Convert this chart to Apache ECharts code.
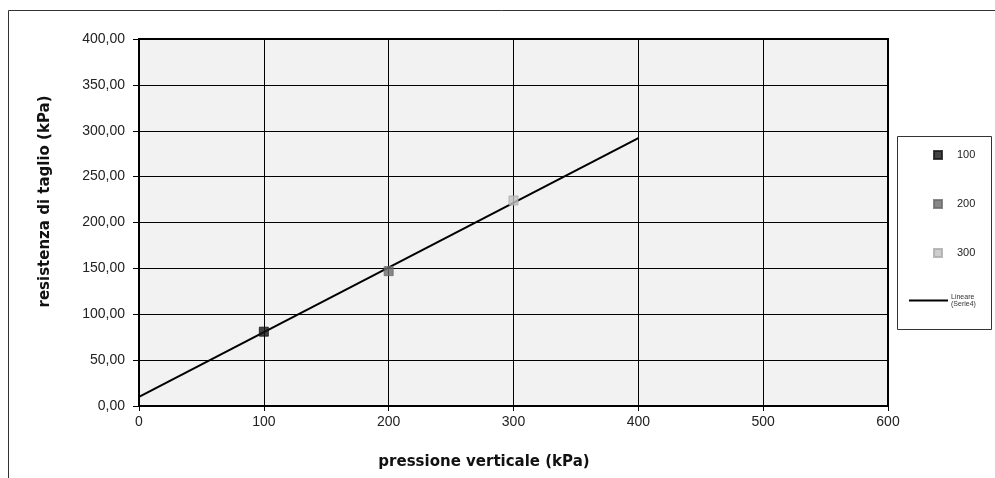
<!DOCTYPE html>
<html>
<head>
<meta charset="utf-8">
<script src="https://cdn.jsdelivr.net/npm/echarts@6/dist/echarts.min.js"></script>
<style>
  html, body { margin: 0; padding: 0; background: #ffffff; }
  #chart { width: 995px; height: 478px; }
</style>
</head>
<body>
<div id="chart"></div>
<script>
// Shear test: vertical pressure vs shear strength, with linear fit
const pressioni = [100, 200, 300];          // kPa, one point per test
const resistenze = [81, 147, 224];          // kPa
const nomiSerie = ['100', '200', '300'];
const coloriSerie = ['#141414', '#6a6a6a', '#c2c2c2'];

// Linear trend line (Serie4), read at its two ends
const lineareX = [0, 400];
const lineareY = [10, 292];
const nomeLineare = 'Lineare (Serie4)';

const xTicks = { min: 0, max: 600, step: 100 };
const yTicks = { min: 0, max: 400, step: 50 };

const chart = echarts.init(document.getElementById('chart'));

const scatterSeries = nomiSerie.map((nome, i) => ({
  name: nome,
  type: 'scatter',
  symbol: 'rect',
  symbolSize: 9,
  itemStyle: { color: coloriSerie[i], borderColor: i === 2 ? '#aaaaaa' : coloriSerie[i], borderWidth: 1 },
  data: [[pressioni[i], resistenze[i]]],
  z: 5
}));

const lineSeries = {
  name: nomeLineare,
  type: 'line',
  symbol: 'none',
  color: '#000000',
  lineStyle: { color: '#000000', width: 2 },
  data: lineareX.map((x, i) => [x, lineareY[i]]),
  z: 4
};

chart.setOption({
  animation: false,
  backgroundColor: '#ffffff',
  grid: {
    left: 139, right: 107, top: 39, bottom: 72,
    show: true,
    backgroundColor: '#f2f2f2',
    borderColor: '#000000',
    borderWidth: 2
  },
  xAxis: {
    type: 'value',
    min: xTicks.min, max: xTicks.max, interval: xTicks.step,
    name: 'pressione verticale (kPa)',
    nameLocation: 'middle',
    nameGap: 49,
    nameTextStyle: { fontFamily: 'DejaVu Sans', fontWeight: 'bold', fontSize: 15, color: '#111', padding: [0, 59, 0, 0] },
    axisLine: { show: true, lineStyle: { color: '#000', width: 2 } },
    axisTick: { show: true, length: 5, lineStyle: { color: '#000', width: 1 } },
    axisLabel: { margin: 9, fontFamily: 'Liberation Sans', fontSize: 14, color: '#222' },
    splitLine: { show: true, lineStyle: { color: '#000', width: 1 } }
  },
  yAxis: {
    type: 'value',
    min: yTicks.min, max: yTicks.max, interval: yTicks.step,
    name: 'resistenza di taglio (kPa)',
    nameLocation: 'middle',
    nameGap: 86,
    nameTextStyle: { fontFamily: 'DejaVu Sans', fontWeight: 'bold', fontSize: 15, color: '#111', padding: [0, 0, 0, 42] },
    axisLine: { show: true, lineStyle: { color: '#000', width: 2 } },
    axisTick: { show: true, length: 6, lineStyle: { color: '#000', width: 1 } },
    axisLabel: {
      margin: 14, fontFamily: 'Liberation Sans', fontSize: 14, color: '#222',
      formatter: v => v.toFixed(2).replace('.', ',')
    },
    splitLine: { show: true, lineStyle: { color: '#000', width: 1 } }
  },
  legend: [
    {
      data: nomiSerie,
      orient: 'vertical',
      left: 928, top: 144,
      itemWidth: 8, itemHeight: 8,
      itemGap: 37,
      icon: 'rect',
      textStyle: { fontFamily: 'Liberation Sans', fontSize: 11, lineHeight: 12, color: '#222', padding: [0, 0, 0, 10] },
      selectedMode: false
    },
    {
      data: [nomeLineare],
      orient: 'vertical',
      left: 904, top: 288,
      itemWidth: 39, itemHeight: 2,
      icon: 'rect',
      formatter: n => n.replace(' ', '\n'),
      textStyle: { fontFamily: 'Liberation Sans', fontSize: 7, lineHeight: 7.5, color: '#333', padding: [0, 0, 0, -2] },
      selectedMode: false
    }
  ],
  graphic: [
    // chart area frame (top and left edges)
    { type: 'line', shape: { x1: 8.5, y1: 10.5, x2: 995, y2: 10.5 }, style: { stroke: '#333', lineWidth: 1 }, silent: true },
    { type: 'line', shape: { x1: 8.5, y1: 10.5, x2: 8.5, y2: 478 }, style: { stroke: '#333', lineWidth: 1 }, silent: true },
    // legend box
    { type: 'rect', shape: { x: 897.5, y: 136.5, width: 94, height: 193 }, style: { fill: '#ffffff', stroke: '#333', lineWidth: 1 }, z: -1, silent: true }
  ],
  series: [...scatterSeries, lineSeries]
});
</script>
</body>
</html>
